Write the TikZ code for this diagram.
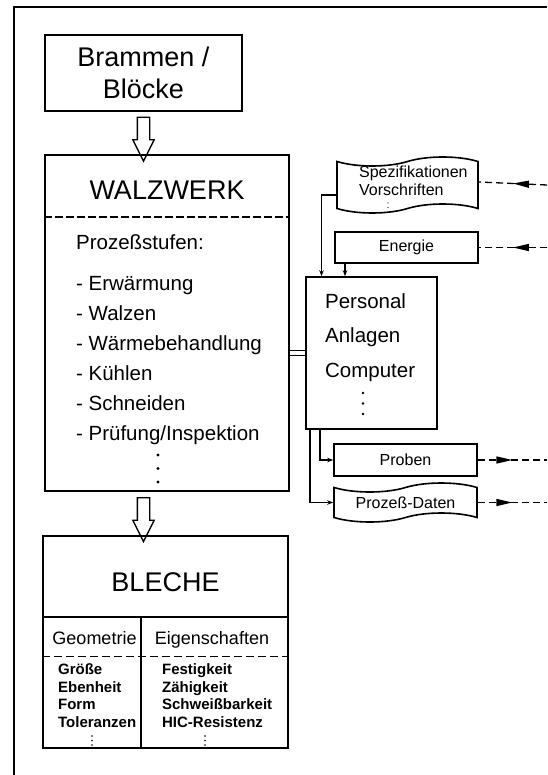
\documentclass[tikz,border=0pt]{standalone}
\usepackage{fontspec}
\setmainfont{Liberation Sans}
\usetikzlibrary{shapes.arrows,shapes.symbols,arrows.meta,decorations.markings}
\newcommand\dotcol[4]{\foreach \k in {0,1,2} \fill (#1,#2+\k*#3) circle (#4pt);}
\begin{document}
\begin{tikzpicture}[x=1pt, y=-1pt, line width=1.6pt]
  \tikzset{
    box/.style={draw, rectangle, inner sep=0pt},
    wavybox/.style={draw, tape, tape bend top=in and out, tape bend bottom=in and out, tape bend height=9pt, inner sep=0pt},
    hollow/.style={draw, line width=1.3pt, single arrow, rotate=-90, minimum height=44pt, inner xsep=0pt, inner ysep=5.5pt, single arrow head extend=4.5pt, single arrow tip angle=53, single arrow head indent=0pt},
    link/.style={line width=1.2pt, -{Stealth[length=6pt,width=4.5pt]}},
    feed/.style={line width=1.3pt, dash pattern=on 7pt off 4pt, postaction={decorate}, decoration={markings, mark=at position 0.5 with {\arrow{Triangle[length=16pt,width=7pt]}}}},
    big/.style={font=\fontsize{27}{32}\selectfont},
    mid/.style={font=\fontsize{20.5}{24}\selectfont},
    head/.style={font=\fontsize{18}{20}\selectfont},
    small/.style={font=\fontsize{16}{18}\selectfont},
    tiny/.style={font=\bfseries\fontsize{15}{17.5}\selectfont}
  }
  \useasboundingbox (0,0) rectangle (547,775);
  \draw (14,775) -- (14,7) -- (547,7);
  \coordinate (rim) at (547,0);

  % left column
  \node[box, big, minimum width=197pt, minimum height=76pt, align=center] (brammen) at (143.5,73) {Brammen /\\Blöcke};
  \node[box, minimum width=244pt, minimum height=336pt] (walzwerk) at (167,323) {};
  \node[big] (wtitle) at (167,190) {WALZWERK};
  \draw[dash pattern=on 8pt off 3pt] ([yshift=-63pt]walzwerk.north west) -- ([yshift=-63pt]walzwerk.north east);
  \node[mid, anchor=base west] (stages) at (72,250) {Prozeßstufen:};
  \foreach \txt [count=\i] in {Erwärmung, Walzen, Wärmebehandlung, Kühlen, Schneiden, Prüfung/Inspektion}
    \node[mid, anchor=base west] (stage\i) at (72,260+30*\i) {- \txt};
  \dotcol{158}{455}{13.5}{1.7}

  \node[box, minimum width=245pt, minimum height=212pt] (bleche) at (165.5,642) {};
  \node[big] (btitle) at (165.5,582) {BLECHE};
  \draw ([yshift=-82pt]bleche.north west) -- ([yshift=-82pt]bleche.north east);
  \draw ([xshift=99pt,yshift=-82pt]bleche.north west) -- ([xshift=99pt]bleche.south west);
  \draw[line width=1.3pt, dash pattern=on 8pt off 4pt] ([yshift=-121pt]bleche.north west) -- ([yshift=-121pt]bleche.north east);
  \node[head, anchor=base] (geo) at (94.5,644) {Geometrie};
  \node[head, anchor=base] (props) at (212,644) {Eigenschaften};
  \foreach \txt [count=\i] in {Größe, Ebenheit, Form, Toleranzen}
    \node[tiny, anchor=base west] (geo\i) at (54,657+17.5*\i) {\txt};
  \foreach \txt [count=\i] in {Festigkeit, Zähigkeit, Schweißbarkeit, HIC-Resistenz}
    \node[tiny, anchor=base west] (prop\i) at (158,657+17.5*\i) {\txt};
  \dotcol{92}{736}{4.5}{0.9}
  \dotcol{205}{736}{4.5}{0.9}

  \path (brammen.south) -- (brammen.south |- walzwerk.north) node[midway, hollow] (intake) {};
  \path (walzwerk.south -| brammen.south) -- (bleche.north -| brammen.south) node[midway, hollow] (output) {};

  % right column
  \node[box, minimum width=131pt, minimum height=152pt] (personal) at (371.5,353) {};
  \node[mid, anchor=base west] (pers) at (321,308) {Personal};
  \node[mid, anchor=base west] (anl) at (321,342) {Anlagen};
  \node[mid, anchor=base west] (comp) at (321,377) {Computer};
  \dotcol{363}{393}{10.5}{1.4}
  \draw[double, line width=1.2pt, double distance=4.5pt] (personal.west -| walzwerk.east) -- (personal.west);

  \node[wavybox, minimum width=141pt, minimum height=56pt] (spez) at (407.5,185) {};
  \node[small, anchor=base west] (spez1) at (355,178) {Spezifikationen};
  \node[small, anchor=base west] (spez2) at (355,196) {Vorschriften};
  \dotcol{388}{203}{4.5}{0.7}
  \node[box, small, minimum width=143pt, minimum height=31pt] (energie) at (406.5,247.5) {Energie};
  \node[box, small, minimum width=143pt, minimum height=32pt] (proben) at (405.5,460) {Proben};
  \node[wavybox, small, minimum width=143pt, minimum height=39pt] (daten) at (405.5,502.5) {Prozeß-Daten};

  \draw[link] ([yshift=-10pt]spez.west) -| ([xshift=-50pt]personal.north);
  \draw[link] ([xshift=-61.5pt]energie.south) -- ([xshift=-61.5pt]energie.south |- personal.north);
  \draw[link] ([xshift=-51.5pt]personal.south) |- (proben.west);
  \draw[link] ([xshift=-61.5pt]personal.south) |- (daten.west);

  \draw[feed] (spez.east -| rim) -- ([yshift=3pt]spez.east);
  \draw[feed] (energie.east -| rim) -- (energie.east);
  \draw[feed] (proben.east) -- (proben.east -| rim);
  \draw[feed] (daten.east) -- (daten.east -| rim);
\end{tikzpicture}
\end{document}
